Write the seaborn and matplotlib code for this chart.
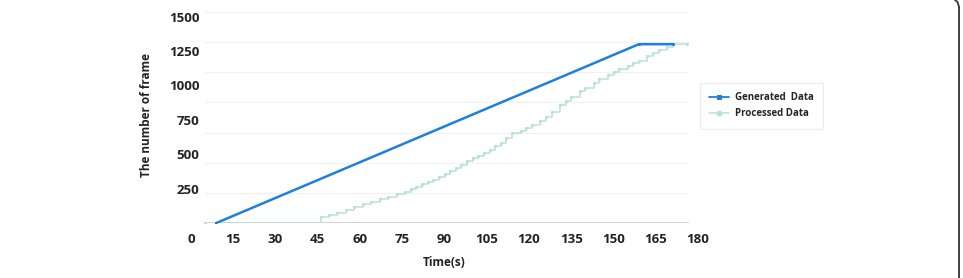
import numpy as np
import pandas as pd
import matplotlib
matplotlib.use('Agg')
import matplotlib.pyplot as plt
import seaborn as sns
from matplotlib.lines import Line2D

# ---- data ----
gen_t = [9, 159, 171]
gen_v = [0, 1300, 1300]

proc_t = [5, 46, 49, 52, 55, 58, 61, 64, 67, 70,
          73, 76, 78, 80, 82, 84, 86, 88, 90, 92,
          94, 96, 98, 100, 102, 104, 106, 108, 110, 112,
          114, 117, 119, 121, 124, 126, 128, 131, 133, 135,
          138, 140, 143, 145, 148, 150, 152, 155, 157, 159,
          162, 164, 166, 169, 171, 176]
proc_v = [0, 46, 58, 71, 95, 119, 138, 156, 174, 192,
          210, 229, 245, 261, 280, 297, 314, 335, 355, 375,
          400, 425, 448, 470, 490, 509, 533, 558, 582, 620,
          655, 672, 691, 710, 740, 773, 805, 857, 885, 915,
          958, 980, 1015, 1045, 1075, 1095, 1117, 1145, 1163, 1181,
          1215, 1235, 1255, 1280, 1300, 1300]

x_ticks = [0, 15, 30, 45, 60, 75, 90, 105, 120, 135, 150, 165, 180]
y_ticks = [250, 500, 750, 1000, 1250, 1500]

gen = pd.DataFrame({'t': gen_t, 'v': gen_v})
proc = pd.DataFrame({'t': proc_t, 'v': proc_v})

sns.set_theme(style='white')
plt.rcParams['font.family'] = ['Open Sans', 'DejaVu Sans']

fig = plt.figure(figsize=(9.63, 2.78), dpi=100)
ax = fig.add_axes([191 / 963, 55 / 278, 507 / 963, 211 / 278])

x0, x1 = 5, 176.4
y_top = 1534

# light grid and axis line, only over the drawn data span
for g in np.linspace(0, y_top, 8)[1:]:
    ax.plot([x0, x1], [g, g], color='#f1f1f1', lw=0.8, zorder=0)
ax.plot([x0, x1], [0, 0], color='#d2d2d2', lw=1.4, zorder=1)

sns.lineplot(data=proc, x='t', y='v', ax=ax, color='#b9e2d4', lw=1.1,
             drawstyle='steps-post', marker='o', ms=1.5, mec='#b9e2d4',
             label='Processed Data', zorder=2)
sns.lineplot(data=gen, x='t', y='v', ax=ax, color='#1f80dc', lw=1.8,
             marker='o', ms=1.5, mec='#1f80dc',
             label='Generated  Data', zorder=3)

ax.set_xlim(0, 180)
ax.set_ylim(0, y_top)
ax.set_xticks(x_ticks)
ax.set_yticks(y_ticks)
for s in ax.spines.values():
    s.set_visible(False)
ax.tick_params(axis='x', length=0, pad=7, labelsize=9.5, labelcolor='#222222')
ax.tick_params(axis='y', length=0, pad=-6, labelsize=9.5, labelcolor='#222222')
for lab in ax.get_xticklabels() + ax.get_yticklabels():
    lab.set_fontweight('bold')

ax.set_xlabel('Time(s)', fontsize=8.5, fontweight='bold', color='#222222')
ax.set_ylabel('The number of frame', fontsize=8.5, fontweight='bold', color='#222222')
ax.xaxis.set_label_coords(0.50, -0.157)
ax.yaxis.set_label_coords(-0.074, 0.51)

handles, labels = ax.get_legend_handles_labels()
order = [labels.index('Generated  Data'), labels.index('Processed Data')]
leg = ax.legend([handles[i] for i in order], [labels[i] for i in order],
                loc='upper left', bbox_to_anchor=(1.004, 0.664), borderaxespad=0,
                frameon=True, fancybox=False,
                prop={'weight': 'bold', 'size': 7}, handlelength=2.0,
                handletextpad=0.6, borderpad=0.95, labelspacing=0.55)
leg.get_frame().set_edgecolor('#e6e6e6')
leg.get_frame().set_linewidth(0.8)
leg.legend_handles[0].set_marker('s')
leg.legend_handles[0].set_markersize(3.5)
leg.legend_handles[0].set_linewidth(1.3)
leg.legend_handles[1].set_markersize(3.5)

# page border on the right edge
fig.add_artist(Line2D([959 / 963, 959 / 963], [0, 271 / 278],
                      transform=fig.transFigure, color='#333333', lw=1.3))
fig.add_artist(Line2D([955 / 963, 957.5 / 963, 959 / 963], [1.0, 276 / 278, 271 / 278],
                      transform=fig.transFigure, color='#333333', lw=1.3))

fig.savefig('out.png', dpi=100)
